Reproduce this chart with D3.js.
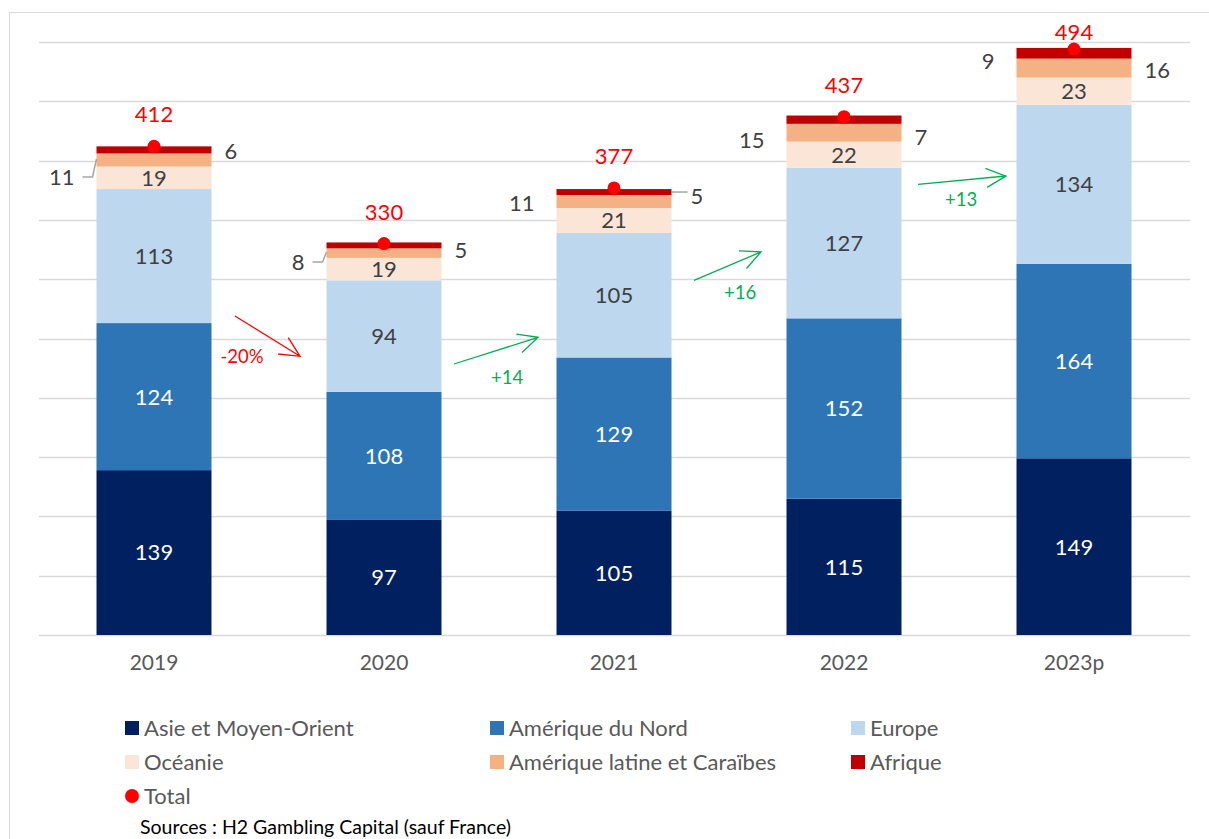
<!DOCTYPE html>
<html lang="fr">
<head>
<meta charset="utf-8">
<script src="https://cdn.jsdelivr.net/npm/d3@7"></script>
<style>
  html, body { margin: 0; padding: 0; background: #fff; }
  svg { display: block; font-family: Lato, "Open Sans", sans-serif; }
</style>
</head>
<body>
<svg id="chart" width="1209" height="839"></svg>
<script>
// Années et séries (Mds €)
const years = ["2019", "2020", "2021", "2022", "2023p"];
const asie = [139, 97, 105, 115, 149];
const ameriqueNord = [124, 108, 129, 152, 164];
const europe = [113, 94, 105, 127, 134];
const oceanie = [19, 19, 21, 22, 23];
const ameriqueLatine = [11, 8, 11, 15, 16];
const afrique = [6, 5, 5, 7, 9];
const totals = [412, 330, 377, 437, 494];

const seriesNames = ["Asie et Moyen-Orient", "Amérique du Nord", "Europe", "Océanie", "Amérique latine et Caraïbes", "Afrique"];
const seriesValues = [asie, ameriqueNord, europe, oceanie, ameriqueLatine, afrique];
const seriesColors = ["#002060", "#2E75B6", "#BDD7EE", "#FBE5D6", "#F4B183", "#C00000"];
const seriesTextColors = ["#ffffff", "#ffffff", "#404040", "#404040", "#404040", "#404040"];

// Variations annotées entre les années
const changeLabels = ["-20%", "+14", "+16", "+13"];

// Écart vertical (px) entre le point du total et sa valeur
const totalLabelGap = [32, 32, 32, 32, 17];

// Placement des étiquettes extérieures (Amérique latine / Afrique)
const sideLabels = [
  // [année, série, côté, décalage vertical en px, trait de rappel]
  [0, 4, "left", 17, true], [0, 5, "right", 1, false],
  [1, 4, "left", 9, true], [1, 5, "right", 5, false],
  [2, 4, "left", 2, false], [2, 5, "right", 4, true],
  [3, 4, "left", 7, false], [3, 5, "right", 17, false],
  [4, 5, "left", 8, false], [4, 4, "right", 2, false]
];
// Flèches : [index départ, valeur départ, index arrivée, valeur arrivée, index label, valeur label, couleur]
const arrows = [
  [0.352, 269, 0.635, 235, 0.383, 235, "#FF0000"],
  [1.304, 228.5, 1.67, 251, 1.535, 217.5, "#00B050"],
  [2.348, 299, 2.639, 323, 2.548, 289, "#00B050"],
  [3.322, 380, 3.704, 387, 3.509, 367.6, "#00B050"]
];

const svg = d3.select("#chart");

// Cadre
svg.append("rect").attr("x", 9.5).attr("y", 12.5).attr("width", 1300).attr("height", 900)
  .attr("fill", "none").attr("stroke", "#d9d9d9").attr("stroke-width", 1);

const plot = { left: 39, right: 1189, top: 42, bottom: 635 };

const x = d3.scaleBand().domain(years).range([plot.left, plot.right]).paddingInner(0.5).paddingOuter(0.25);
const y = d3.scaleLinear().domain([0, 500]).range([plot.bottom, plot.top]);
const xIdx = i => x(years[0]) + x.bandwidth() / 2 + i * x.step();

// Grille
svg.append("g").selectAll("line").data(y.ticks(10)).join("line")
  .attr("x1", plot.left).attr("x2", plot.right + 1)
  .attr("y1", d => Math.round(y(d)) + 0.5).attr("y2", d => Math.round(y(d)) + 0.5)
  .attr("stroke", "#d9d9d9").attr("stroke-width", 1.3);

// Empilement
const rows = years.map((yr, i) => {
  const o = { year: yr };
  seriesNames.forEach((n, k) => o[n] = seriesValues[k][i]);
  return o;
});
const stacked = d3.stack().keys(seriesNames)(rows);

const layers = svg.append("g").selectAll("g").data(stacked).join("g")
  .attr("fill", (d, k) => seriesColors[k]);
layers.selectAll("rect").data(d => d).join("rect")
  .attr("x", d => x(d.data.year))
  .attr("width", x.bandwidth())
  .attr("y", d => y(d[1]))
  .attr("height", d => y(d[0]) - y(d[1]));

const numSize = 22;

// Étiquettes intérieures (4 premières séries)
stacked.slice(0, 4).forEach((layer, k) => {
  svg.append("g").selectAll("text").data(layer).join("text")
    .attr("x", d => x(d.data.year) + x.bandwidth() / 2)
    .attr("y", d => (y(d[0]) + y(d[1])) / 2)
    .attr("dy", "0.36em")
    .attr("text-anchor", "middle")
    .attr("font-size", numSize)
    .attr("fill", seriesTextColors[k])
    .text(d => d[1] - d[0]);
});

// Étiquettes extérieures
const side = svg.append("g");
sideLabels.forEach(([i, k, pos, dy, leader]) => {
  const seg = stacked[k][i];
  const cy = (y(seg[0]) + y(seg[1])) / 2;
  const x0 = x(years[i]), x1 = x0 + x.bandwidth();
  const ty = cy + dy;
  if (pos === "left") {
    const tx = x0 - 22;
    side.append("text").attr("x", tx).attr("y", ty).attr("dy", "0.36em")
      .attr("text-anchor", "end").attr("font-size", numSize).attr("fill", "#404040")
      .text(seriesValues[k][i]);
    if (leader) {
      side.append("path")
        .attr("d", `M${tx + 8},${ty} H${x0 - 4} L${x0},${cy - 1}`)
        .attr("fill", "none").attr("stroke", "#a6a6a6").attr("stroke-width", 1.5);
    }
  } else {
    const tx = x1 + (leader ? 19 : 13);
    side.append("text").attr("x", tx).attr("y", ty).attr("dy", "0.36em")
      .attr("text-anchor", "start").attr("font-size", numSize).attr("fill", "#404040")
      .text(seriesValues[k][i]);
    if (leader) {
      side.append("path")
        .attr("d", `M${x1},${cy} H${tx - 3}`)
        .attr("fill", "none").attr("stroke", "#a6a6a6").attr("stroke-width", 1.5);
    }
  }
});

// Total : points et valeurs
const tot = svg.append("g");
tot.selectAll("circle").data(totals).join("circle")
  .attr("cx", (d, i) => x(years[i]) + x.bandwidth() / 2)
  .attr("cy", d => y(d))
  .attr("r", 6.5)
  .attr("fill", "#FF0000");
tot.selectAll("text").data(totals).join("text")
  .attr("x", (d, i) => x(years[i]) + x.bandwidth() / 2)
  .attr("y", (d, i) => y(d) - totalLabelGap[i])
  .attr("dy", "0.36em")
  .attr("text-anchor", "middle")
  .attr("font-size", numSize)
  .attr("fill", "#FF0000")
  .text(d => d);

// Flèches de variation
const arr = svg.append("g");
arrows.forEach(([i0, v0, i1, v1, il, vl, col], n) => {
  const ax0 = xIdx(i0), ay0 = y(v0), ax1 = xIdx(i1), ay1 = y(v1);
  const ang = Math.atan2(ay1 - ay0, ax1 - ax0);
  const L = 22, spread = 0.45;
  const h1 = [ax1 - L * Math.cos(ang - spread), ay1 - L * Math.sin(ang - spread)];
  const h2 = [ax1 - L * Math.cos(ang + spread), ay1 - L * Math.sin(ang + spread)];
  arr.append("path")
    .attr("d", `M${ax0},${ay0} L${ax1},${ay1} M${h1[0]},${h1[1]} L${ax1},${ay1} L${h2[0]},${h2[1]}`)
    .attr("fill", "none").attr("stroke", col).attr("stroke-width", 1.3);
  arr.append("text").attr("x", xIdx(il)).attr("y", y(vl)).attr("dy", "0.36em")
    .attr("text-anchor", "middle").attr("font-size", 18.5).attr("fill", col)
    .text(changeLabels[n]);
});

// Axe des abscisses
const xAxis = svg.append("g").attr("transform", `translate(0,${plot.bottom})`)
  .call(d3.axisBottom(x).tickSize(0).tickPadding(20));
xAxis.select(".domain").remove();
xAxis.selectAll("text").attr("font-size", 21).attr("fill", "#595959").attr("font-family", "Lato, 'Open Sans', sans-serif");

// Légende
const legendItems = seriesNames.map((n, k) => ({ name: n, color: seriesColors[k], type: "rect" }))
  .concat([{ name: "Total", color: "#FF0000", type: "circle" }]);
const legendCols = [125, 490, 851];
const legendRows = [728, 762, 796];
const lg = svg.append("g");
legendItems.forEach((it, n) => {
  const cx = legendCols[n % 3], cy = legendRows[Math.floor(n / 3)];
  if (it.type === "rect") {
    lg.append("rect").attr("x", cx).attr("y", cy - 7).attr("width", 14).attr("height", 14).attr("fill", it.color);
  } else {
    lg.append("circle").attr("cx", cx + 7).attr("cy", cy).attr("r", 7).attr("fill", it.color);
  }
  lg.append("text").attr("x", cx + 19).attr("y", cy).attr("dy", "0.36em")
    .attr("font-size", 22).attr("fill", "#595959").text(it.name);
});

// Source
svg.append("text").attr("x", 140).attr("y", 834).attr("font-size", 19.5).attr("fill", "#000")
  .text("Sources : H2 Gambling Capital (sauf France)");
</script>
</body>
</html>
